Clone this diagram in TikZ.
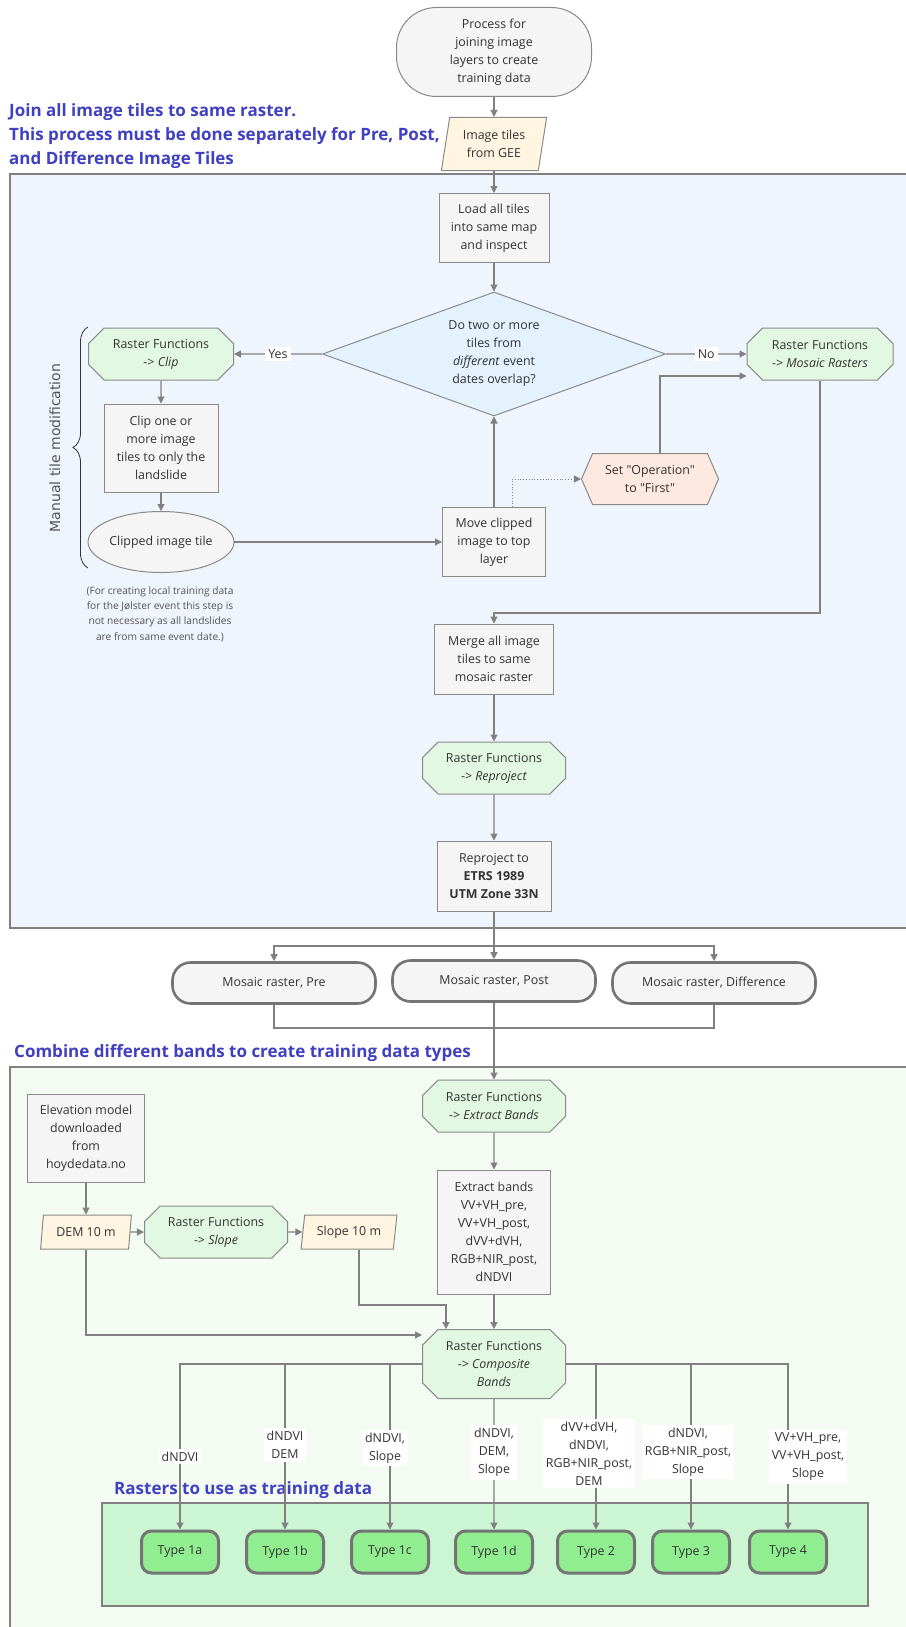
\documentclass[tikz,border=0pt]{standalone}
\usepackage{fontspec}
\setmainfont{Open Sans}
\newfontfamily\osans{Open Sans}
\newfontfamily\bracefont{DejaVu Sans}
\usetikzlibrary{shapes.geometric,shapes.misc,shapes.symbols,arrows.meta,decorations.pathreplacing,calc}
\definecolor{linegray}{HTML}{808080}
\definecolor{bordergray}{HTML}{8A8A8A}
\definecolor{thickgray}{HTML}{747474}
\definecolor{txt}{HTML}{333333}
\definecolor{boxfill}{HTML}{F5F5F5}
\definecolor{octfill}{HTML}{E3F8E3}
\definecolor{bluebg}{HTML}{EEF5FD}
\definecolor{greenbg}{HTML}{F3FBF3}
\definecolor{trainbg}{HTML}{CCF5D4}
\definecolor{typefill}{HTML}{90EE90}
\definecolor{cream}{HTML}{FFF5E1}
\definecolor{salmon}{HTML}{FDE9E0}
\definecolor{diamfill}{HTML}{E3F2FD}
\definecolor{headblue}{HTML}{4040C0}
\definecolor{notegray}{HTML}{555555}
\begin{document}
\begin{tikzpicture}[x=1pt,y=-1pt,
  every node/.style={font=\osans\fontsize{12.4}{18}\selectfont, text=txt, align=center, inner sep=0pt},
  conn/.style={draw=linegray, line width=1.1pt, -{Triangle[length=7pt,width=7pt]}},
  plain/.style={draw=linegray, line width=1.1pt},
  box/.style={rectangle, draw=bordergray, fill=boxfill, line width=1pt},
  octo/.style={chamfered rectangle, chamfered rectangle xsep=12pt, draw=bordergray, fill=octfill, line width=1pt, minimum width=143pt, minimum height=52pt},
  para/.style={trapezium, trapezium left angle=78, trapezium right angle=102, trapezium stretches=true, draw=bordergray, fill=cream, line width=1pt},
  stad/.style={rectangle, rounded corners=18pt, draw=thickgray, line width=2.6pt, fill=boxfill, minimum width=203pt, minimum height=41pt},
  typ/.style={rectangle, rounded corners=10pt, draw=thickgray, line width=3pt, fill=typefill, minimum width=77pt, minimum height=42pt},
  lbl/.style={fill=white, inner sep=3pt},
  head/.style={font=\osans\fontsize{17}{24}\selectfont\bfseries, text=headblue, align=left, anchor=west},
]
\useasboundingbox (0,0) rectangle (905,1627);
\fill[white] (0,0) rectangle (905,1627);
% frames
\draw[fill=bluebg, draw=linegray, line width=1.2pt] (10,174) rectangle (915,928);
\draw[fill=greenbg, draw=linegray, line width=1.2pt] (10,1067) rectangle (915,1640);
\draw[fill=trainbg, draw=linegray, line width=1.2pt] (102,1503) rectangle (868,1606);
% headings
\node[head] (h1) at (9,136) {Join all image tiles to same raster.\\This process must be done separately for Pre, Post,\\and Difference Image Tiles};
\node[head] (h2) at (14,1053) {Combine different bands to create training data types};
\node[head] (h3) at (114,1490) {Rasters to use as training data};
% nodes
\node[rectangle, rounded corners=40pt, draw=bordergray, fill=boxfill, line width=1pt, minimum width=195pt, minimum height=89pt] (start) at (494,52) {Process for\\joining image\\layers to create\\training data};
\node[para, minimum width=106pt, minimum height=53pt] (tiles) at (494,144) {Image tiles\\from GEE};
\node[box, minimum width=110pt, minimum height=69pt] (load) at (494,228) {Load all tiles\\into same map\\and inspect};
\node[diamond, shape aspect=2.77, draw=bordergray, fill=diamfill, line width=1pt, minimum width=343pt, minimum height=124pt] (dec) at (494,354) {Do two or more\\tiles from\\\textit{different} event\\dates overlap?};
\node[octo, minimum width=145pt] (clip) at (161,354) {Raster Functions\\-> \textit{Clip}};
\node[octo, minimum width=146pt] (mos) at (820,354) {Raster Functions\\-> \textit{Mosaic Rasters}};
\node[box, minimum width=114pt, minimum height=88pt] (clipbox) at (161,448) {Clip one or\\more image\\tiles to only the\\landslide};
\node[ellipse, draw=bordergray, fill=boxfill, line width=1pt, minimum width=141pt, minimum height=61pt] (ctile) at (161,542) {Clipped image tile};
\node[box, minimum width=103pt, minimum height=69pt] (move) at (494,542) {Move clipped\\image to top\\layer};
\node[signal, signal to=east and west, signal pointer angle=133, draw=bordergray, fill=salmon, line width=1pt, minimum width=137pt, minimum height=51pt] (setop) at (650,479) {Set "Operation"\\to "First"};
\node[font=\osans\fontsize{10.2}{15.3}\selectfont, text=notegray] (note) at (160,614) {(For creating local training data\\for the Jølster event this step is\\not necessary as all landslides\\are from same event date.)};
\node[box, minimum width=119pt, minimum height=70pt] (merge) at (494,659) {Merge all image\\tiles to same\\mosaic raster};
\node[octo] (rfrep) at (494,768) {Raster Functions\\-> \textit{Reproject}};
\node[box, minimum width=114pt, minimum height=70pt] (repbox) at (494,876) {Reproject to\\\textbf{ETRS 1989}\\\textbf{UTM Zone 33N}};
\node[stad] (pre) at (274,983) {Mosaic raster, Pre};
\node[stad] (post) at (494,981) {Mosaic raster, Post};
\node[stad] (diff) at (714,983) {Mosaic raster, Difference};
\node[octo] (rfext) at (494,1106) {Raster Functions\\-> \textit{Extract Bands}};
\node[box, minimum width=113pt, minimum height=124pt] (extbox) at (494,1232) {Extract bands\\VV+VH\_pre,\\VV+VH\_post,\\dVV+dVH,\\RGB+NIR\_post,\\dNDVI};
\node[box, minimum width=117pt, minimum height=88pt] (elev) at (86,1138) {Elevation model\\downloaded\\from\\hoydedata.no};
\node[para, minimum width=91pt, minimum height=34pt] (dem) at (86,1232) {DEM 10 m};
\node[octo] (rfslope) at (216,1232) {Raster Functions\\-> \textit{Slope}};
\node[para, minimum width=96pt, minimum height=34pt] (slope) at (349,1232) {Slope 10 m};
\node[octo, minimum height=69pt] (comp) at (494,1364) {Raster Functions\\-> \textit{Composite}\\\textit{Bands}};
\node[typ] (t1a) at (180,1552) {Type 1a};
\node[typ] (t1b) at (285,1552) {Type 1b};
\node[typ] (t1c) at (390,1552) {Type 1c};
\node[typ] (t1d) at (494,1552) {Type 1d};
\node[typ] (t2) at (596,1552) {Type 2};
\node[typ] (t3) at (691,1552) {Type 3};
\node[typ] (t4) at (788,1552) {Type 4};
% brace
\draw[draw=txt, line width=0.8pt, decorate, decoration={brace, amplitude=15pt}] (88,568) -- (88,327);
\node[font=\bracefont\fontsize{14}{16}\selectfont, text=notegray, rotate=90] (mtm) at (55,448) {Manual tile modification};
% connectors
\draw[conn] (start) -- (tiles);
\draw[conn] (tiles) -- (load);
\draw[conn] (load) -- (dec);
\draw[conn] (dec) -- node[lbl]{Yes} (clip);
\draw[conn] (dec) -- node[lbl]{No} (mos);
\draw[conn] (clip) -- (clipbox);
\draw[conn] (clipbox) -- (ctile);
\draw[conn] (ctile) -- (move);
\draw[conn] (move) -- (dec);
\draw[draw=linegray, line width=0.8pt, dotted, -{Triangle[length=7pt,width=7pt]}] ([xshift=18pt]move.north) |- (setop.west);
\draw[conn] ([xshift=10pt]setop.north) |- ([yshift=-22pt]mos.west);
\coordinate (mj) at (494,613);
\draw[conn] (mos.south) |- (mj) -- (merge.north);
\draw[conn] (merge) -- (rfrep);
\draw[conn] (rfrep) -- (repbox);
\coordinate (sp) at (494,946);
\draw[conn] (repbox) -- (post);
\draw[conn] (sp) -| (pre.north);
\draw[conn] (sp) -| (diff.north);
\coordinate (mj2) at (494,1028);
\draw[plain] (pre.south) |- (mj2);
\draw[plain] (diff.south) |- (mj2);
\draw[conn] (post) -- (rfext);
\draw[conn] (rfext) -- (extbox);
\draw[conn] (extbox) -- (comp);
\draw[conn] (elev) -- (dem);
\draw[conn] (dem) -- (rfslope);
\draw[conn] (rfslope) -- (slope);
\coordinate (cl) at (422,1335);
\draw[conn] (dem.south) |- (cl);
\coordinate (cs) at (446,1305);
\draw[conn] ([xshift=10pt]slope.south) |- (cs) -- (cs |- comp.north);
% outputs
\draw[conn] (comp.west) -| node[lbl, pos=0.78]{dNDVI} (t1a.north);
\draw[conn] (comp.west) -| node[lbl, pos=0.745]{dNDVI\\DEM} (t1b.north);
\draw[conn] (comp.west) -| node[lbl, pos=0.754, xshift=-5pt]{dNDVI,\\Slope} (t1c.north);
\draw[conn] (comp) -- node[lbl, pos=0.41]{dNDVI,\\DEM,\\Slope} (t1d);
\draw[conn] (comp.east) -| node[lbl, pos=0.77, xshift=-7pt]{dVV+dVH,\\dNDVI,\\RGB+NIR\_post,\\DEM} (t2.north);
\draw[conn] (comp.east) -| node[lbl, pos=0.766, xshift=-3pt]{dNDVI,\\RGB+NIR\_post,\\Slope} (t3.north);
\draw[conn] (comp.east) -| node[lbl, pos=0.78, xshift=20pt]{VV+VH\_pre,\\VV+VH\_post,\\Slope} (t4.north);
\end{tikzpicture}
\end{document}
